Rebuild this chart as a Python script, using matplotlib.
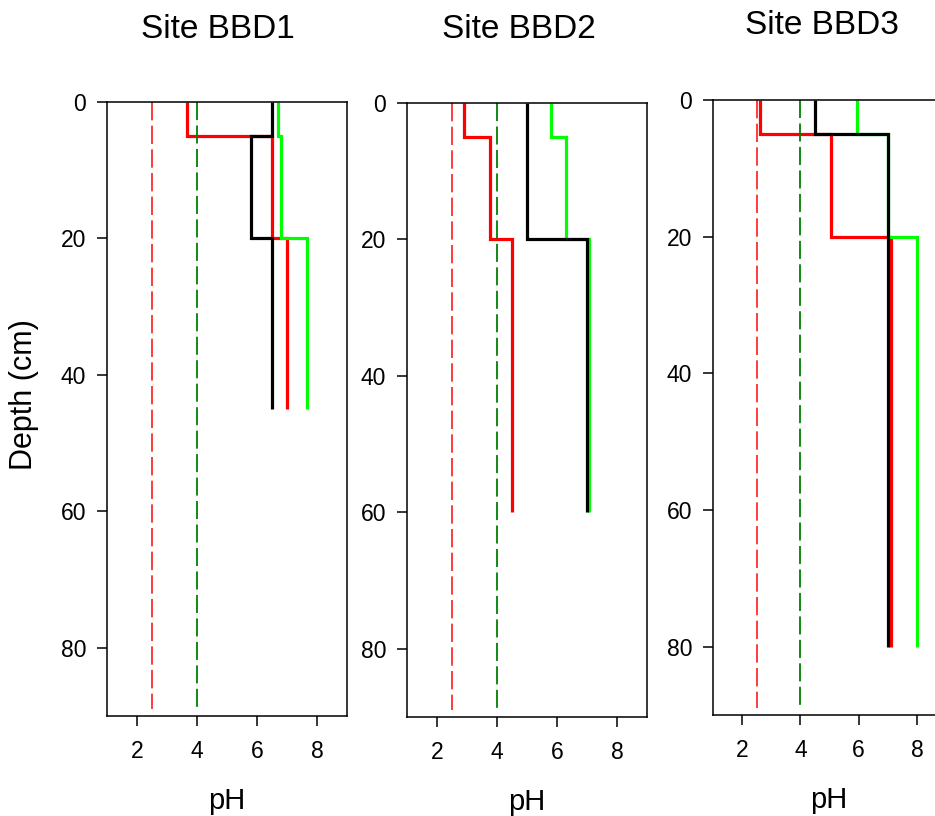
import matplotlib
matplotlib.use("Agg")
import matplotlib.pyplot as plt

plt.rcParams['font.family'] = ['Liberation Sans', 'DejaVu Sans']

# layer boundaries (cm) and pH of each layer, per site
sites = ["Site BBD1", "Site BBD2", "Site BBD3"]

bbd1_depths = [0, 5, 20, 45]
bbd1_red = [3.65, 6.5, 7.0]
bbd1_green = [6.7, 6.8, 7.65]
bbd1_black = [6.5, 5.8, 6.5]

bbd2_depths = [0, 5, 20, 60]
bbd2_red = [2.9, 3.75, 4.5]
bbd2_green = [5.8, 6.3, 7.05]
bbd2_black = [5.0, 5.0, 7.0]

bbd3_depths = [0, 5, 20, 80]
bbd3_red = [2.6, 5.05, 7.1]
bbd3_green = [5.95, 7.0, 8.0]
bbd3_black = [4.5, 7.0, 7.0]

# reference pH levels (dashed)
ref_red = 2.5
ref_green = 4.0
ref_depth = 89

x_ticks = [2, 4, 6, 8]
y_ticks = [0, 20, 40, 60, 80]

W, H = 935, 816
fig = plt.figure(figsize=(W / 100, H / 100), dpi=100)

# axes boxes in pixels: left, right, top, bottom
boxes = [(107, 347, 102, 716), (407, 647, 102.5, 717), (713, 946, 100, 715)]
title_pos = [(218, 30), (519, 30), (822, 25)]
xlabel_pos = [(227, 801), (527, 802), (829, 800)]

data = [
    (bbd1_depths, bbd1_red, bbd1_green, bbd1_black),
    (bbd2_depths, bbd2_red, bbd2_green, bbd2_black),
    (bbd3_depths, bbd3_red, bbd3_green, bbd3_black),
]

for i, (depths, red, green, black) in enumerate(data):
    l, r, t, b = boxes[i]
    ax = fig.add_axes([l / W, 1 - b / H, (r - l) / W, (b - t) / H])

    ax.plot([ref_red, ref_red], [0, ref_depth], color='#ff1a1a', lw=1.2, dashes=(11, 3.2))
    ax.plot([ref_green, ref_green], [0, ref_depth], color='#007f00', lw=1.3, dashes=(10, 3))

    ax.stairs(red, depths, orientation='horizontal', baseline=None, color='#ff0000', lw=2.3)
    ax.stairs(green, depths, orientation='horizontal', baseline=None, color='#00ff00', lw=2.3)
    ax.stairs(black, depths, orientation='horizontal', baseline=None, color='black', lw=2.3)

    ax.set_xlim(1, 9)
    ax.set_ylim(90, 0)
    ax.set_xticks(x_ticks)
    ax.set_yticks(y_ticks)
    ax.tick_params(direction='out', length=7, width=1.1, labelsize=16.5, pad=8)
    ax.tick_params(axis='x', pad=10)
    for s in ax.spines.values():
        s.set_linewidth(1.1)

    tx, ty = title_pos[i]
    fig.text(tx / W, 1 - ty / H, sites[i], ha='center', va='center', fontsize=24)
    lx, ly = xlabel_pos[i]
    fig.text(lx / W, 1 - ly / H, "pH", ha='center', va='center', fontsize=21)

fig.text(24 / W, 1 - 395 / H, "Depth (cm)", ha='center', va='center', rotation=90, fontsize=22)

fig.savefig("out.png", dpi=100)
